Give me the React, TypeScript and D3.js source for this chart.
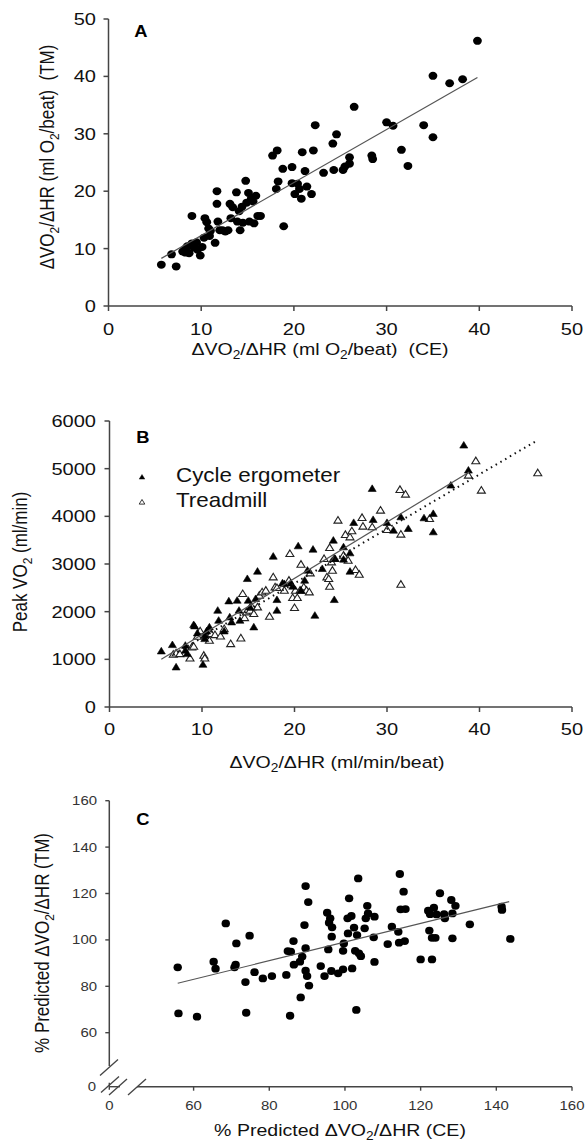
import React from "react";
import * as d3 from "d3";

// Panel A: delta VO2 / delta HR, CE (x) vs TM (y)
const aCE = [5.7, 6.8, 7.3, 8.0, 8.3, 8.3, 8.5, 8.7, 9.0, 9.0, 9.2, 9.5, 9.6, 9.9, 10.1, 10.3, 10.4, 10.6, 10.8, 10.9, 11.0, 11.5, 11.7, 11.7, 11.8, 12.0, 12.3, 12.6, 12.9, 13.1, 13.2, 13.4, 13.8, 13.9, 14.1, 14.2, 14.4, 14.5, 14.8, 14.9, 15.1, 15.2, 15.4, 15.6, 15.7, 15.9, 16.1, 16.4, 17.7, 18.2, 18.1, 18.3, 18.9, 18.8, 19.8, 19.8, 20.1, 20.4, 20.6, 20.8, 20.9, 21.2, 21.4, 21.9, 22.1, 22.3, 23.2, 24.2, 24.3, 24.6, 25.3, 25.5, 26.0, 26.0, 26.5, 28.4, 28.5, 30.0, 30.7, 31.6, 32.3, 34.0, 35.0, 35.0, 36.8, 38.2, 39.8];
const aTM = [7.2, 9.0, 6.9, 9.5, 10.0, 9.3, 10.4, 9.2, 10.9, 15.7, 10.2, 11.1, 9.8, 8.8, 10.3, 11.9, 15.3, 14.6, 13.5, 12.2, 13.1, 11.0, 20.0, 17.8, 14.7, 13.2, 13.2, 13.0, 13.2, 17.8, 15.3, 17.2, 19.8, 14.7, 16.5, 13.2, 17.3, 14.5, 21.8, 18.0, 19.7, 14.7, 18.7, 18.2, 14.4, 19.2, 15.7, 15.7, 26.2, 27.1, 20.4, 21.7, 13.9, 23.9, 24.2, 21.4, 19.5, 21.3, 20.4, 18.7, 26.8, 23.5, 20.8, 19.5, 27.1, 31.5, 23.2, 28.3, 23.7, 29.9, 23.7, 24.3, 24.8, 25.9, 34.7, 26.2, 25.6, 32.0, 31.4, 27.2, 24.4, 31.5, 29.4, 40.1, 38.8, 39.5, 46.2];
const aFit = { x: [5.7, 39.8], y: [8.3, 39.8] };

// Panel B: peak VO2 vs delta VO2 / delta HR
const bCycleX = [5.6, 6.8, 7.2, 8.2, 8.2, 8.4, 9.1, 9.2, 9.5, 10.1, 10.3, 10.5, 10.8, 10.3, 11.7, 11.8, 12.4, 12.9, 13.0, 13.2, 13.8, 14.0, 14.1, 14.9, 15.0, 15.2, 15.6, 15.8, 16.0, 17.7, 18.1, 18.1, 18.7, 18.9, 19.6, 19.8, 20.4, 20.7, 21.1, 21.4, 22.0, 22.2, 23.0, 24.2, 24.3, 24.4, 25.3, 25.3, 26.0, 26.0, 26.4, 28.4, 28.5, 30.0, 30.7, 31.5, 32.3, 34.0, 35.0, 35.0, 36.9, 38.3, 38.8];
const bCycleY = [1176, 1309, 840, 1295, 1190, 1120, 1729, 1701, 1554, 896, 1505, 1596, 1680, 1435, 2030, 1820, 1596, 2226, 1890, 1785, 2240, 2030, 1820, 2695, 2240, 2100, 1680, 2275, 2849, 3164, 2254, 2030, 2604, 2590, 2604, 2534, 3381, 2450, 2660, 2870, 3311, 1925, 2905, 3500, 2254, 3115, 3360, 3101, 3234, 2849, 3871, 4585, 3934, 3871, 3710, 3990, 3745, 3969, 4060, 3675, 4655, 5495, 4970];
const bTreadX = [6.9, 7.2, 7.6, 8.7, 8.9, 9.1, 9.5, 9.8, 10.2, 10.3, 10.8, 11.0, 11.4, 12.0, 12.4, 13.1, 14.2, 14.4, 14.6, 14.8, 15.2, 15.4, 15.6, 16.0, 16.2, 16.5, 16.9, 17.3, 17.7, 17.9, 18.1, 18.9, 19.4, 19.5, 19.8, 20.0, 20.1, 20.3, 20.6, 20.7, 21.0, 21.3, 21.6, 21.7, 23.2, 23.5, 23.7, 23.8, 23.8, 24.0, 24.1, 24.3, 24.7, 25.3, 25.5, 25.8, 26.0, 26.2, 26.6, 27.0, 27.3, 27.4, 28.4, 29.3, 30.0, 31.4, 31.5, 31.5, 32.0, 34.6, 38.8, 39.6, 40.2, 46.3];
const bTreadY = [1106, 1134, 1120, 1029, 1260, 1274, 1484, 1596, 1085, 1029, 1400, 1540, 1519, 1491, 1645, 1330, 1449, 2380, 1876, 1995, 2030, 2100, 1960, 2100, 2345, 2415, 2450, 1904, 2730, 2520, 2506, 2450, 2660, 3220, 2296, 2086, 2450, 2296, 2450, 2996, 2520, 2450, 2415, 2814, 3115, 2730, 2695, 2534, 3346, 3045, 2870, 3115, 3920, 3185, 3619, 3080, 3570, 3696, 2884, 2786, 3976, 3794, 3780, 4130, 3724, 4564, 3626, 2576, 4466, 3955, 4865, 5166, 4550, 4914];
const bFitCycle = { x: [5.6, 38.9], y: [1001, 4930] };
const bFitTread = { x: [6.9, 46.3], y: [1100, 5600] };

// Panel C: % predicted
const cCE = [55.8, 56.0, 60.9, 65.3, 65.8, 68.5, 70.8, 71.1, 71.3, 73.7, 73.9, 74.8, 76.1, 78.3, 80.7, 84.5, 84.9, 85.5, 85.7, 86.4, 86.5, 88.1, 88.3, 88.7, 89.3, 89.6, 89.6, 89.6, 90.0, 90.3, 90.5, 93.6, 94.6, 95.3, 95.6, 95.8, 96.1, 96.4, 96.5, 96.6, 98.2, 99.5, 99.5, 99.7, 100.7, 100.8, 101.1, 101.7, 101.9, 102.4, 102.7, 103.0, 103.2, 103.5, 103.7, 104.2, 105.2, 105.5, 105.9, 106.1, 107.6, 107.8, 107.8, 111.3, 112.4, 114.1, 114.3, 114.5, 114.7, 115.5, 115.8, 116.0, 120.0, 122.0, 122.3, 122.5, 123.0, 123.0, 123.5, 123.9, 124.2, 125.1, 126.2, 126.4, 128.1, 128.4, 128.4, 129.2, 133.0, 141.4, 141.5, 143.7];
const cTM = [88.2, 68.3, 66.9, 90.6, 87.6, 107.1, 88.2, 89.3, 98.5, 81.8, 68.6, 101.8, 86.1, 83.4, 84.4, 84.9, 95.2, 67.3, 94.9, 99.5, 89.3, 90.6, 75.2, 92.8, 106.4, 123.2, 96.4, 86.7, 84.4, 116.3, 80.3, 88.7, 84.4, 111.7, 95.9, 107.4, 109.3, 86.6, 101.4, 105.4, 85.6, 87.3, 95.3, 98.5, 109.3, 102.8, 117.9, 110.3, 87.7, 105.3, 95.3, 69.8, 102.1, 126.5, 94.2, 93.0, 105.0, 109.3, 114.7, 111.4, 101.1, 110.0, 90.5, 98.2, 105.7, 103.5, 98.8, 128.4, 113.2, 120.8, 99.5, 113.3, 91.6, 112.6, 104.0, 111.1, 91.6, 100.9, 113.9, 100.9, 111.0, 120.1, 111.1, 109.3, 117.2, 100.7, 111.4, 114.7, 106.7, 114.3, 112.9, 100.4];
const cFit = { x: [55.8, 143.4], y: [81.3, 116.5] };

const abTicks = [0, 10, 20, 30, 40, 50];
const bYTicks = [0, 1000, 2000, 3000, 4000, 5000, 6000];
const cTicks = [60, 80, 100, 120, 140, 160];

const FONT = '"Liberation Sans", Arial, Helvetica, sans-serif';
const AXIS = "#444";
const SX = 1.15;

function Txt({ x, y, size, anchor = "middle", weight = "normal", fill = "#111", rot = false, sx = SX, children }: any) {
  const t = rot
    ? `translate(${x},${y}) rotate(-90) scale(1,${sx})`
    : `translate(${x},${y}) scale(${sx},1)`;
  return (
    <text transform={t} fontSize={size} textAnchor={anchor} fontWeight={weight} fill={fill} fontFamily={FONT} style={{ whiteSpace: "pre" }}>
      {children}
    </text>
  );
}

// parts: plain strings, subscripts written as ["2"]
function Rich({ parts, size }: { parts: any[]; size: number }) {
  let shift = 0;
  const out: any[] = [];
  parts.forEach((p, i) => {
    if (Array.isArray(p)) {
      out.push(<tspan key={i} dy={4 - shift} fontSize={size * 0.7}>{p[0]}</tspan>);
      shift = 4;
    } else {
      out.push(<tspan key={i} dy={-shift}>{p}</tspan>);
      shift = 0;
    }
  });
  return <>{out}</>;
}

const tri = "M0,-3.6L4,3L-4,3Z";

function PanelA() {
  const x = d3.scaleLinear().domain([0, 50]).range([108.5, 572]);
  const y = d3.scaleLinear().domain([0, 50]).range([306, 19]);
  const fit = d3.line<number>().x((d, i) => x(aFit.x[i])).y((d) => y(d));
  return (
    <g>
      <line x1={x(0)} x2={x(50)} y1={y(0)} y2={y(0)} stroke={AXIS} strokeWidth={1.5} />
      <line x1={x(0)} x2={x(0)} y1={y(0)} y2={y(50)} stroke={AXIS} strokeWidth={1.5} />
      {abTicks.map((t) => (
        <g key={"ax" + t}>
          <line x1={x(t)} x2={x(t)} y1={y(0)} y2={y(0) + 5} stroke={AXIS} strokeWidth={1.5} />
          <Txt x={x(t)} y={335} size={17} sx={1.18}>{t}</Txt>
          <line x1={x(0) - 5} x2={x(0)} y1={y(t)} y2={y(t)} stroke={AXIS} strokeWidth={1.5} />
          <Txt x={96} y={y(t) + 6} size={17} sx={1.18} anchor="end">{t}</Txt>
        </g>
      ))}
      {aCE.map((d, i) => (
        <ellipse key={i} cx={x(d)} cy={y(aTM[i])} rx={4.4} ry={4} fill="#000" />
      ))}
      <path d={fit(aFit.y) || ""} stroke="#555" strokeWidth={1.2} fill="none" />
      <Txt x={141} y={37} size={17} weight="bold" sx={1.08} fill="#000">A</Txt>
      <Txt x={320} y={355} size={17}>
        <Rich size={17} parts={["ΔVO", ["2"], "/ΔHR (ml O", ["2"], "/beat)  (CE)"]} />
      </Txt>
      <Txt x={54} y={157} size={17} rot>
        <Rich size={17} parts={["ΔVO", ["2"], "/ΔHR (ml O", ["2"], "/beat)  (TM)"]} />
      </Txt>
    </g>
  );
}

function PanelB() {
  const x = d3.scaleLinear().domain([0, 50]).range([109.5, 572]);
  const y = d3.scaleLinear().domain([0, 6000]).range([707, 421]);
  const lineC = d3.line<number>().x((d, i) => x(bFitCycle.x[i])).y((d) => y(d));
  const lineT = d3.line<number>().x((d, i) => x(bFitTread.x[i])).y((d) => y(d));
  return (
    <g>
      <line x1={x(0)} x2={x(50)} y1={y(0)} y2={y(0)} stroke={AXIS} strokeWidth={1.5} />
      <line x1={x(0)} x2={x(0)} y1={y(0)} y2={y(6000)} stroke={AXIS} strokeWidth={1.5} />
      {abTicks.map((t) => (
        <g key={"bx" + t}>
          <line x1={x(t)} x2={x(t)} y1={y(0)} y2={y(0) + 5} stroke={AXIS} strokeWidth={1.5} />
          <Txt x={x(t)} y={735} size={17} sx={1.18}>{t}</Txt>
        </g>
      ))}
      {bYTicks.map((t) => (
        <g key={"by" + t}>
          <line x1={x(0) - 5} x2={x(0)} y1={y(t)} y2={y(t)} stroke={AXIS} strokeWidth={1.5} />
          <Txt x={96} y={y(t) + 6} size={17} sx={1.18} anchor="end">{t}</Txt>
        </g>
      ))}
      {bTreadX.map((d, i) => (
        <path key={"t" + i} d={tri} transform={`translate(${x(d)},${y(bTreadY[i])})`} fill="#fff" stroke="#222" strokeWidth={1.1} />
      ))}
      {bCycleX.map((d, i) => (
        <path key={"c" + i} d={tri} transform={`translate(${x(d)},${y(bCycleY[i])})`} fill="#000" stroke="#000" strokeWidth={0.6} />
      ))}
      <path d={lineC(bFitCycle.y) || ""} stroke="#555" strokeWidth={1.2} fill="none" />
      <path d={lineT(bFitTread.y) || ""} stroke="#111" strokeWidth={2} strokeDasharray="1.5,4" fill="none" />
      <Txt x={143} y={443} size={17} weight="bold" sx={1.08} fill="#000">B</Txt>
      <path d={tri} transform="translate(142,477) scale(0.7)" fill="#000" stroke="#000" strokeWidth={0.6} />
      <Txt x={176} y={482} size={20} anchor="start" sx={1.12}>Cycle ergometer</Txt>
      <path d={tri} transform="translate(142,502) scale(0.7)" fill="#fff" stroke="#222" strokeWidth={1.3} />
      <Txt x={176} y={507} size={20} anchor="start" sx={1.12}>Treadmill</Txt>
      <Txt x={337} y={768} size={17}>
        <Rich size={17} parts={["ΔVO", ["2"], "/ΔHR (ml/min/beat)"]} />
      </Txt>
      <Txt x={27} y={562} size={17} rot>
        <Rich size={17} parts={["Peak VO", ["2"], " (ml/min)"]} />
      </Txt>
    </g>
  );
}

function PanelC() {
  const x = d3.scaleLinear().domain([60, 160]).range([193.6, 572]);
  const y = d3.scaleLinear().domain([60, 160]).range([1032.7, 800.7]);
  const fit = d3.line<number>().x((d, i) => x(cFit.x[i])).y((d) => y(d));
  const ox = 109.3;
  const oy = 1086.7;
  const slash = (cx: number, cy: number) => (
    <line x1={cx - 9} y1={cy + 8} x2={cx + 9} y2={cy - 8} stroke={AXIS} strokeWidth={1.4} />
  );
  return (
    <g>
      <line x1={ox} x2={ox} y1={y(160)} y2={1066} stroke={AXIS} strokeWidth={1.5} />
      <line x1={137} x2={x(160)} y1={oy} y2={oy} stroke={AXIS} strokeWidth={1.5} />
      <line x1={ox} x2={120} y1={oy} y2={oy} stroke={AXIS} strokeWidth={1.4} />
      <line x1={ox} x2={ox} y1={oy - 4} y2={oy + 3} stroke={AXIS} strokeWidth={1.4} />
      {slash(109, 1067.5)}
      {slash(110, 1084.5)}
      {slash(118, 1087)}
      {slash(137, 1087)}
      {cTicks.map((t) => (
        <g key={"c" + t}>
          <line x1={ox - 4} x2={ox} y1={y(t)} y2={y(t)} stroke={AXIS} strokeWidth={1.4} />
          <Txt x={97} y={y(t) + 4.5} size={13} anchor="end" fill="#333">{t}</Txt>
          <line x1={x(t)} x2={x(t)} y1={oy} y2={oy + 4} stroke={AXIS} strokeWidth={1.4} />
          <Txt x={x(t)} y={1110} size={13} fill="#333">{t}</Txt>
        </g>
      ))}
      <Txt x={96} y={oy + 4.5} size={13} anchor="end" fill="#333">0</Txt>
      <Txt x={ox} y={1110} size={13} fill="#333">0</Txt>
      {cCE.map((d, i) => (
        <ellipse key={i} cx={x(d)} cy={y(cTM[i])} rx={4.2} ry={3.9} fill="#000" />
      ))}
      <path d={fit(cFit.y) || ""} stroke="#555" strokeWidth={1.2} fill="none" />
      <Txt x={143} y={825} size={17} weight="bold" sx={1.08} fill="#000">C</Txt>
      <Txt x={340} y={1136} size={17}>
        <Rich size={17} parts={["% Predicted ΔVO", ["2"], "/ΔHR (CE)"]} />
      </Txt>
      <Txt x={49} y={943} size={17} rot>
        <Rich size={17} parts={["% Predicted ΔVO", ["2"], "/ΔHR (TM)"]} />
      </Txt>
    </g>
  );
}

export default function App() {
  return (
    <svg width={585} height={1145} style={{ position: "absolute", left: 0, top: 0, background: "#fff" }}>
      <rect width={585} height={1145} fill="#fff" />
      <PanelA />
      <PanelB />
      <PanelC />
    </svg>
  );
}
